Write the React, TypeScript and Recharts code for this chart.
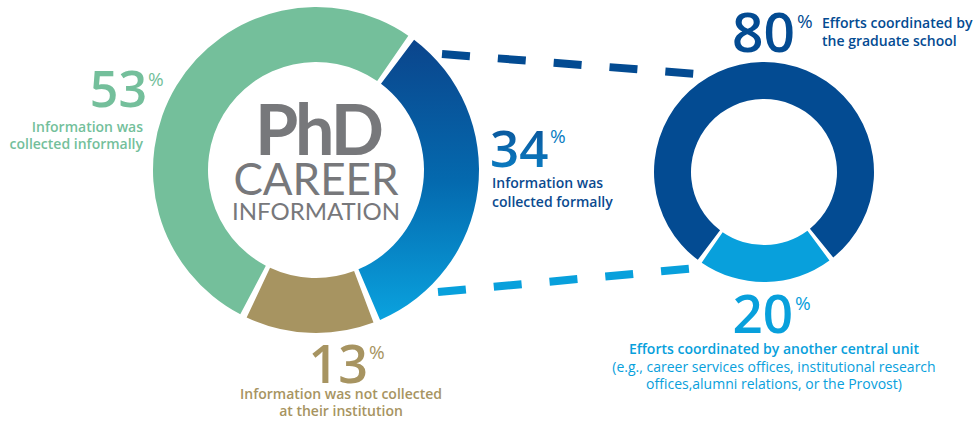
import React from 'react';
import { PieChart, Pie, Cell } from 'recharts';

const leftNames = ['Information was collected formally', 'Information was not collected at their institution', 'Information was collected informally'];
const leftValues = [34, 13, 53];
const leftColors = ['url(#blueGrad)', '#a79461', '#74bf9b'];

const rightNames = ['Efforts coordinated by the graduate school', 'Efforts coordinated by another central unit'];
const rightValues = [80, 20];
const rightColors = ['#034b92', '#08a0dc'];

const leftData = leftNames.map((n, i) => ({ name: n, value: leftValues[i] }));
const rightData = rightNames.map((n, i) => ({ name: n, value: rightValues[i] }));

const FONT = '"Open Sans", Lato, sans-serif';
const TITLE = 'Lato, "Open Sans", sans-serif';

export default function App() {
  return (
    <div style={{ position: 'relative', width: 974, height: 423, background: '#fff', fontFamily: FONT }}>
      <style>{`body{margin:0}`}</style>
      <svg width={0} height={0} style={{ position: 'absolute' }}>
        <defs>
          <linearGradient id="blueGrad" x1="0" y1="0" x2="0" y2="1">
            <stop offset="0%" stopColor="#0b458c" />
            <stop offset="50%" stopColor="#0469ae" />
            <stop offset="100%" stopColor="#0aa2de" />
          </linearGradient>
          <linearGradient id="textGrad" x1="0" y1="0" x2="0" y2="1">
            <stop offset="0%" stopColor="#0b4a8f" />
            <stop offset="100%" stopColor="#0a86cc" />
          </linearGradient>
        </defs>
      </svg>
      <PieChart width={974} height={423} margin={{ top: 0, right: 0, bottom: 0, left: 0 }}>
        <Pie
          data={leftData}
          dataKey="value"
          cx={316}
          cy={170}
          innerRadius={108}
          outerRadius={163}
          startAngle={53}
          endAngle={-307}
          paddingAngle={2.5}
          stroke="none"
          isAnimationActive={false}
        >
          {leftData.map((d, i) => (
            <Cell key={d.name} fill={leftColors[i]} />
          ))}
        </Pie>
        <Pie
          data={rightData}
          dataKey="value"
          cx={764}
          cy={172}
          innerRadius={73}
          outerRadius={110}
          startAngle={-127}
          endAngle={-487}
          paddingAngle={2.5}
          stroke="none"
          isAnimationActive={false}
        >
          {rightData.map((d, i) => (
            <Cell key={d.name} fill={rightColors[i]} />
          ))}
        </Pie>
      </PieChart>
      <svg width={974} height={423} style={{ position: 'absolute', left: 0, top: 0, pointerEvents: 'none' }} fontFamily={FONT}>
        {/* connector dashes */}
        <line x1={442} y1={54} x2={697} y2={74} stroke="#034b92" strokeWidth={8} strokeDasharray="28 28" />
        <line x1={438} y1={292} x2={697} y2={268} stroke="#08a0dc" strokeWidth={8} strokeDasharray="28 28" />

        {/* center title */}
        <text x={318} y={155} textAnchor="middle" fill="#77787b" fontFamily={TITLE} fontSize={70} fontWeight={700} letterSpacing={-3}>PhD</text>
        <text x={316} y={195} textAnchor="middle" fill="#77787b" fontFamily={TITLE} fontSize={44} fontWeight={400}>CAREER</text>
        <text x={316} y={220} textAnchor="middle" fill="#77787b" fontFamily={TITLE} fontSize={24} fontWeight={400}>INFORMATION</text>

        {/* 53% */}
        <text x={147} y={107} textAnchor="end" fill="#74bf9b" fontSize={50} fontWeight={600}>53</text>
        <text x={148} y={86} fill="#74bf9b" fontSize={19} fontWeight={400}>%</text>
        <text x={143} y={132} textAnchor="end" fill="#74bf9b" fontSize={14} fontWeight={600}>Information was</text>
        <text x={143} y={149} textAnchor="end" fill="#74bf9b" fontSize={14} fontWeight={600}>collected informally</text>

        {/* 34% */}
        <text x={490} y={167} fill="url(#textGrad)" fontSize={51} fontWeight={600}>34</text>
        <text x={550} y={143} fill="#0a7cc2" fontSize={19} fontWeight={400}>%</text>
        <text x={492} y={188} fill="#0b4a8f" fontSize={14} fontWeight={600}>Information was</text>
        <text x={492} y={207} fill="#0b4a8f" fontSize={14} fontWeight={600}>collected formally</text>

        {/* 13% */}
        <text x={368} y={383} textAnchor="end" fill="#a79461" fontSize={52} fontWeight={600}>13</text>
        <text x={369} y={359} fill="#a79461" fontSize={19} fontWeight={400}>%</text>
        <text x={341} y={399} textAnchor="middle" fill="#a79461" fontSize={14} fontWeight={600}>Information was not collected</text>
        <text x={341} y={416} textAnchor="middle" fill="#a79461" fontSize={14} fontWeight={600}>at their institution</text>

        {/* 80% */}
        <text x={795} y={52} textAnchor="end" fill="#034b92" fontSize={55} fontWeight={600}>80</text>
        <text x={797} y={28} fill="#034b92" fontSize={19} fontWeight={400}>%</text>
        <text x={822} y={28} fill="#034b92" fontSize={14} fontWeight={600}>Efforts coordinated by</text>
        <text x={822} y={46} fill="#034b92" fontSize={14} fontWeight={600}>the graduate school</text>

        {/* 20% */}
        <text x={793} y={333} textAnchor="end" fill="#08a0dc" fontSize={53} fontWeight={600}>20</text>
        <text x={795} y={310} fill="#08a0dc" fontSize={19} fontWeight={400}>%</text>
        <text x={774} y={354} textAnchor="middle" fill="#08a0dc" fontSize={14} fontWeight={600}>Efforts coordinated by another central unit</text>
        <text x={774} y={372} textAnchor="middle" fill="#08a0dc" fontSize={14} fontWeight={400}>(e.g., career services offices, institutional research</text>
        <text x={774} y={389} textAnchor="middle" fill="#08a0dc" fontSize={14} fontWeight={400}>offices,alumni relations, or the Provost)</text>
      </svg>
    </div>
  );
}
